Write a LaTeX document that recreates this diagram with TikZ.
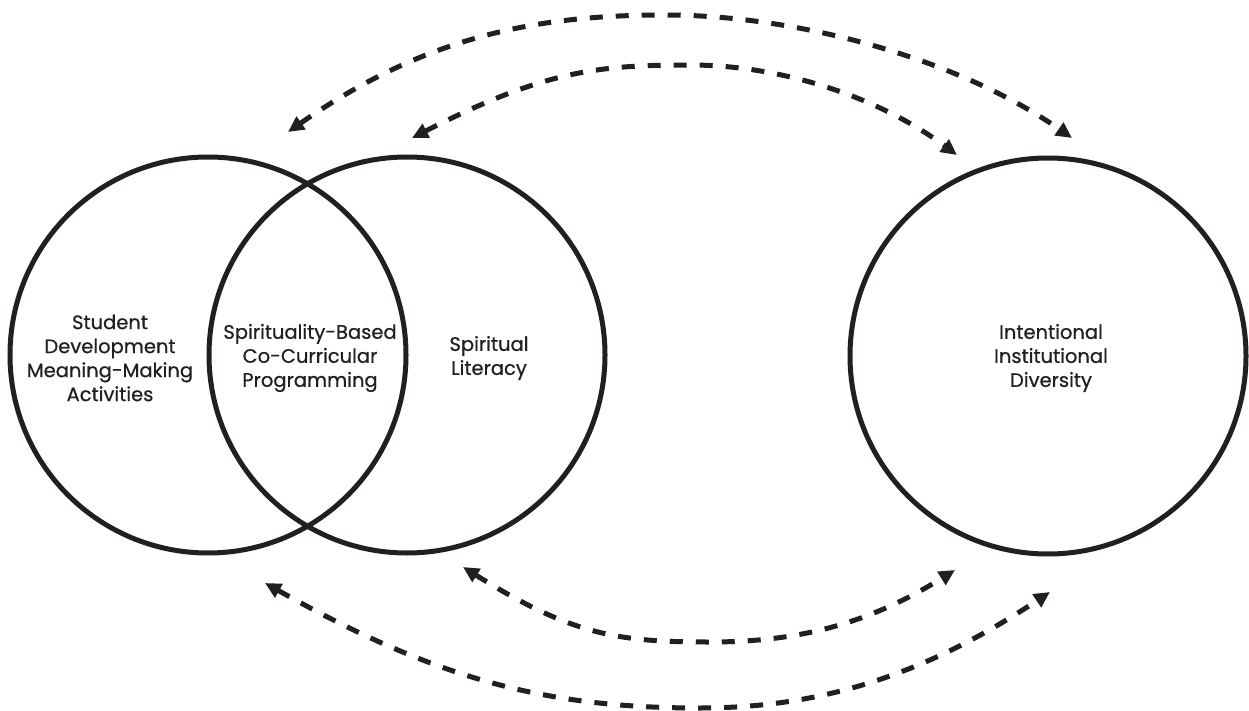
\documentclass[tikz,border=0pt]{standalone}
\usepackage{fontspec}
\setmainfont{Poppins}[FakeBold=0.7]
\usetikzlibrary{arrows.meta}
\definecolor{mydark}{RGB}{35, 31, 32}

\begin{document}
\begin{tikzpicture}[x=1pt,y=-1pt,
    ring/.style={draw=mydark,line width=5pt,circle,minimum size=396pt,inner sep=0pt},
    ringtext/.style={text=mydark,align=center,font=\fontsize{19.5}{24}\selectfont},
    link/.style={draw=mydark,line width=5pt,dash pattern=on 13pt off 13pt,
        {Triangle[length=16pt,width=15pt]}-{Triangle[length=16pt,width=15pt]}}]
    \useasboundingbox (0,0) rectangle (1249,711);

    % The three circles
    \node[ring] (student) at (208,355) {};
    \node[ring] (literacy) at (407,355) {};
    \node[ring] (diversity) at (1048,356) {};

    % Texts inside the circles
    \node[ringtext] (studentText) at (110,358) {Student\\Development\\Meaning-Making\\Activities};
    \node[ringtext] (programText) at (310,358) {Spirituality-Based\\Co-Curricular\\Programming};
    \node[ringtext] (literacyText) at (489,358) {Spiritual\\Literacy};
    \node[ringtext] (diversityText) at (1051,358) {Intentional\\Institutional\\Diversity};

    % End points of the dashed links
    \coordinate (outerTopL) at (288,132);
    \coordinate (outerTopR) at (1072,138);
    \coordinate (innerTopL) at (412,138);
    \coordinate (innerTopR) at (957,155);
    \coordinate (innerBotL) at (463,567);
    \coordinate (innerBotR) at (955,570);
    \coordinate (outerBotL) at (265,583);
    \coordinate (outerBotR) at (1050,592);

    % Dashed links, top
    \draw[link] (outerTopL) .. controls (427,35) and (540,15) .. (665,15)
        .. controls (800,15) and (960,60) .. (outerTopR);
    \draw[link] (innerTopL) .. controls (545,70) and (600,65) .. (690,65)
        .. controls (780,65) and (877,96) .. (innerTopR);
    % Dashed links, bottom
    \draw[link] (innerBotL) .. controls (573,636) and (620,642) .. (710,642)
        .. controls (800,642) and (870,623) .. (innerBotR);
    \draw[link] (outerBotL) .. controls (439,681) and (550,708) .. (700,708)
        .. controls (820,708) and (925,675) .. (outerBotR);
\end{tikzpicture}
\end{document}
